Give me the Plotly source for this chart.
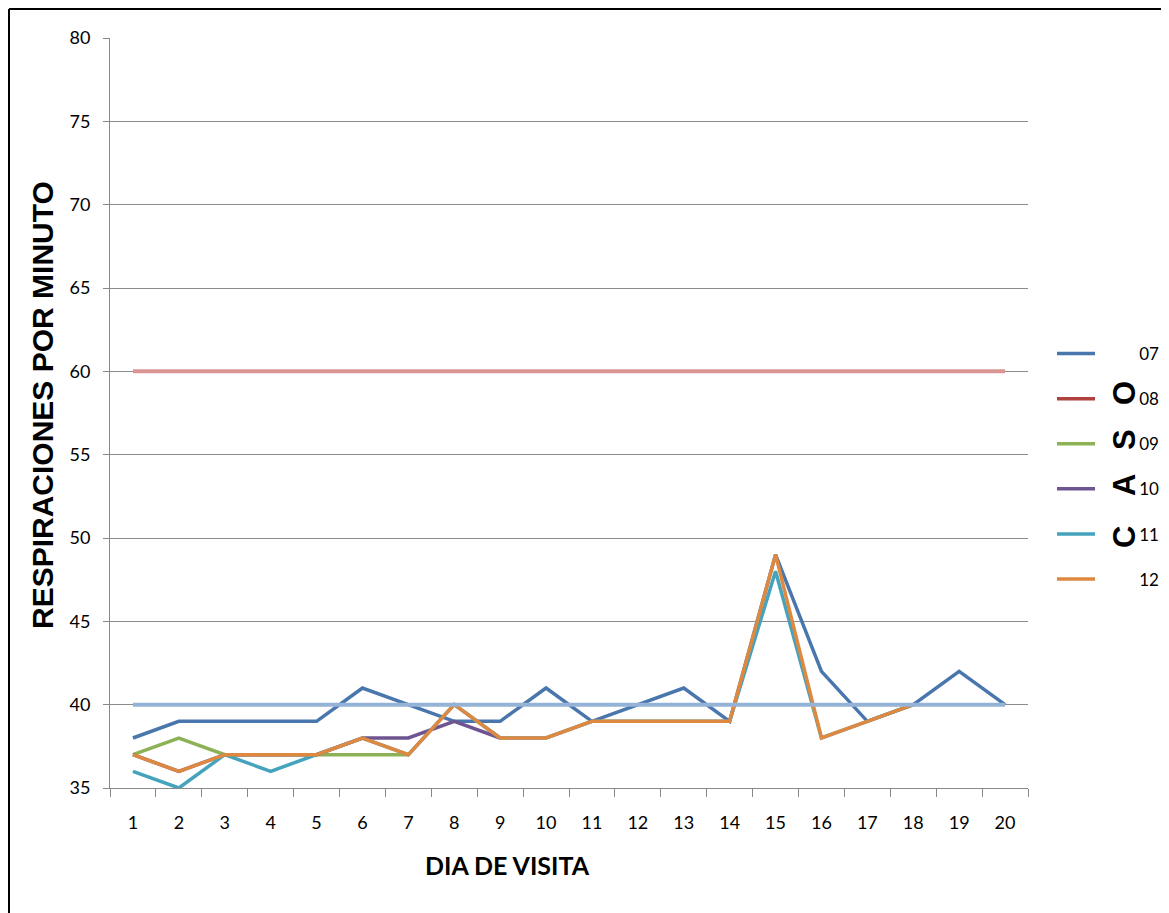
import plotly.graph_objects as go

dias = [str(d) for d in range(1, 21)]

caso_07 = [38, 39, 39, 39, 39, 41, 40, 39, 39, 41, 39, 40, 41, 39, 49, 42, 39, 40, 42, 40]
caso_08 = [None] * 20
caso_09 = [37, 38, 37, 37, 37, 37, 37]
caso_10 = [37, 36, 37, 37, 37, 38, 38, 39, 38]
caso_11 = [36, 35, 37, 36, 37, 38, 37, 40, 38, 38, 39, 39, 39, 39, 48, 38, 39, 40]
caso_12 = [37, 36, 37, 37, 37, 38, 37, 40, 38, 38, 39, 39, 39, 39, 49, 38, 39, 40]
limite_sup = [60, 60, 60, 60, 60, 60, 60, 60, 60, 60, 60, 60, 60, 60, 60, 60, 60, 60, 60, 60]
limite_inf = [40, 40, 40, 40, 40, 40, 40, 40, 40, 40, 40, 40, 40, 40, 40, 40, 40, 40, 40, 40]

series = [
    ("07", caso_07, "#4A76AE"),
    ("08", caso_08, "#B0413E"),
    ("09", caso_09, "#8DB255"),
    ("10", caso_10, "#6E5490"),
    ("11", caso_11, "#45A3BD"),
    ("12", caso_12, "#DE8840"),
]

TICK_FONT = "Lato, Open Sans, sans-serif"
PAD = "\u00a0" * 9

fig = go.Figure()
for i, (name, vals, color) in enumerate(series):
    fig.add_trace(go.Scatter(
        x=dias[:len(vals)], y=vals, name=PAD + name, mode="lines",
        line=dict(color=color, width=3.5), legendgroup=name,
    ))

fig.add_trace(go.Scatter(x=dias, y=limite_sup, mode="lines", showlegend=False,
                         line=dict(color="#D99694", width=4), hoverinfo="skip"))
fig.add_trace(go.Scatter(x=dias, y=limite_inf, mode="lines", showlegend=False,
                         line=dict(color="#95B3D7", width=4), hoverinfo="skip"))

# page has an 8px body margin: figure is drawn 8px in from the page edges
OFF = 8
FIG_W, FIG_H = 1169 - OFF, 913 - OFF
# plot area in page pixels: x 110..1028, y 38..788
L, R, T, B = 110, 1028, 38, 788
W, H = R - L, B - T
def px(xp): return (xp - L) / W
def py(yp): return (B - yp) / H

annotations = [
    dict(text="<b>RESPIRACIONES POR MINUTO</b>", x=px(43), y=py(405), xref="paper", yref="paper",
         showarrow=False, textangle=-90, xanchor="center", yanchor="middle",
         font=dict(family="Liberation Sans, Arial, sans-serif", size=30, color="#000000")),
    dict(text="<b>DIA DE VISITA</b>", x=px(507), y=py(865), xref="paper", yref="paper",
         showarrow=False, xanchor="center", yanchor="middle",
         font=dict(family=TICK_FONT, size=25, color="#000000")),
]
for letter, yy in [("O", 393), ("S", 440), ("A", 485), ("C", 537)]:
    annotations.append(dict(text="<b>%s</b>" % letter, x=px(1124), y=py(yy), xref="paper", yref="paper",
                            showarrow=False, textangle=-90, xanchor="center", yanchor="middle",
                            font=dict(family="Liberation Sans, Arial, sans-serif", size=31, color="#000000")))

shapes = [
    dict(type="line", xref="paper", yref="paper", x0=px(9), x1=px(9), y0=py(9), y1=py(913),
         line=dict(color="#000000", width=2)),
    dict(type="line", xref="paper", yref="paper", x0=px(9), x1=px(1169), y0=py(9), y1=py(9),
         line=dict(color="#000000", width=2)),
]

fig.update_layout(
    width=FIG_W, height=FIG_H,
    margin=dict(l=L - OFF, r=1169 - R, t=T - OFF, b=913 - B, autoexpand=False),
    paper_bgcolor="white", plot_bgcolor="white",
    showlegend=True,
    legend=dict(x=px(1052), y=py(336), xanchor="left", yanchor="top",
                traceorder="grouped", tracegroupgap=20, itemwidth=38,
                font=dict(family=TICK_FONT, size=17, color="#000000"),
                bgcolor="rgba(0,0,0,0)"),
    annotations=annotations,
    shapes=shapes,
    xaxis=dict(type="category", range=[-0.5, 19.5], tickson="boundaries", ticks="outside", ticklen=8,
               tickcolor="#888888", showline=True, linecolor="#888888", linewidth=1,
               showgrid=False, tickfont=dict(family=TICK_FONT, size=18, color="#000000"),
               ticklabelstandoff=18),
    yaxis=dict(range=[35, 80], dtick=5, ticks="outside", ticklen=6, tickcolor="#888888",
               showline=True, linecolor="#888888", linewidth=1,
               showgrid=True, gridcolor="#8C8C8C", gridwidth=1, zeroline=False,
               tickfont=dict(family=TICK_FONT, size=18, color="#000000"),
               ticklabelstandoff=9),
)

fig.write_html("out.html")
